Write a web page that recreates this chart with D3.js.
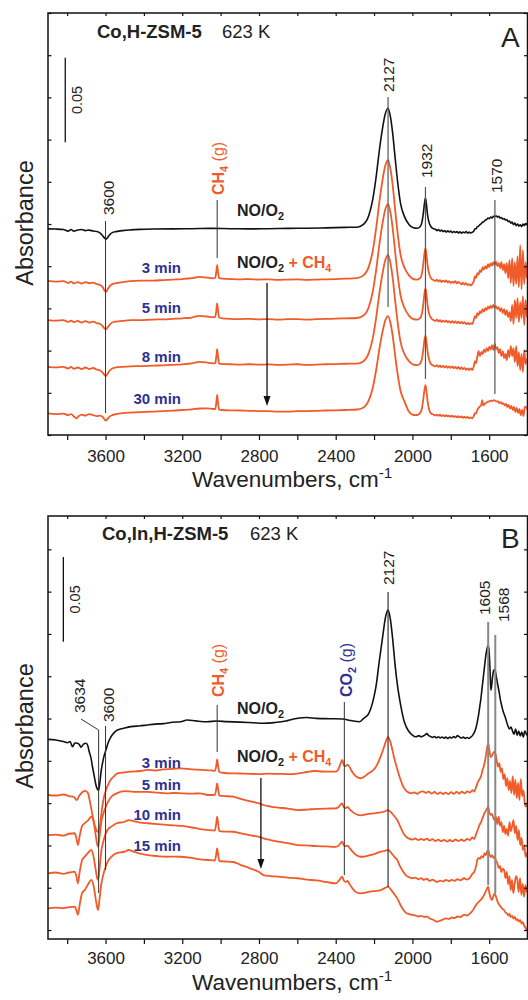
<!DOCTYPE html>
<html><head><meta charset="utf-8">
<script src="https://cdn.jsdelivr.net/npm/d3@7"></script>
<style>body{margin:0;background:#fff}</style>
</head><body>
<svg id="c" width="528" height="1000"></svg>
<script>
// ---------- axis data ----------
const xDomain = [3900, 1400];
const xTicksMajor = [3600, 3200, 2800, 2400, 2000, 1600];
const xTicksAll = [3800, 3600, 3400, 3200, 3000, 2800, 2600, 2400, 2200, 2000, 1800, 1600];
const yTicksA = [0, 0.025, 0.05, 0.075, 0.1, 0.125, 0.15, 0.175, 0.2, 0.225, 0.25];
const yTicksB = [0, 0.025, 0.05, 0.075, 0.1, 0.125, 0.15, 0.175, 0.2, 0.225];
const yDomainA = [0, 0.25];
const yDomainB = [-0.0053, 0.2447];
const scaleBar = 0.05;

// ---------- Panel A spectra [wavenumber, absorbance] ----------
const aNO = [[3900,.1221],[3860,.1220],[3820,.1217],[3795,.1208],[3780,.1217],[3765,.1208],[3745,.1214],[3725,.1217],[3705,.1211],[3685,.1214],[3665,.1208],[3645,.1205],[3628,.1196],[3615,.1181],[3605,.1166],[3598,.1160],[3590,.1169],[3578,.1187],[3565,.1199],[3545,.1205],[3510,.1211],[3470,.1215],[3420,.1218],[3350,.1220],[3250,.1221],[3150,.1222],[3050,.1224],[2950,.1222],[2850,.1221],[2750,.1222],[2650,.1224],[2550,.1225],[2450,.1227],[2350,.1230],[2290,.1231],
[2257,.1246],[2227,.1302],[2207,.1394],[2187,.1549],[2172,.1690],[2157,.1809],[2142,.1900],[2127,.1936],[2115,.1887],[2103,.1788],[2090,.1640],[2077,.1499],[2062,.1372],[2042,.1295],[2017,.1246],
[1995,.1228],[1975,.1225],[1960,.1234],[1950,.1261],[1943,.1314],[1937,.1373],[1932,.1403],[1927,.1368],[1921,.1302],[1913,.1258],[1903,.1234],[1890,.1222],
[1880,.1219],[1872,.1211],[1864,.1217],[1856,.1208],[1848,.1214],[1840,.1205],[1832,.1211],[1824,.1202],[1816,.1209],[1808,.1203],[1800,.1208],[1792,.1199],[1784,.1206],[1776,.1200],[1768,.1205],[1760,.1197],[1752,.1204],[1744,.1196],[1736,.1203],[1728,.1198],[1720,.1205],[1712,.1196],[1704,.1202],[1696,.1197],[1688,.1201],[1680,.1208],[1674,.1222],[1668,.1221],[1662,.1234],[1655,.1237],[1648,.1246],[1641,.1252],[1634,.1261],[1627,.1264],[1620,.1273],[1613,.1276],[1606,.1285],[1599,.1282],[1592,.1291],[1585,.1285],[1578,.1296],[1571,.1293],[1564,.1299],[1557,.1291],[1550,.1296],[1543,.1285],[1536,.1288],[1529,.1279],[1522,.1282],[1515,.1273],[1508,.1276],[1501,.1264],[1494,.1267],[1487,.1255],[1480,.1261],[1473,.1246],[1466,.1255],[1459,.1240],[1452,.1249],[1445,.1237],[1438,.1246],[1431,.1234],[1424,.1249],[1417,.1240],[1410,.1252],[1400,.1245]];

const a3 = [[3900,.0913],[3860,.0909],[3820,.0912],[3795,.0900],[3780,.0909],[3765,.0898],[3745,.0906],[3725,.0897],[3705,.0906],[3685,.0900],[3665,.0903],[3645,.0894],[3628,.0888],[3615,.0876],[3605,.0855],[3598,.0848],[3590,.0861],[3578,.0882],[3565,.0894],[3545,.0900],[3510,.0906],[3470,.0912],[3420,.0915],[3350,.0915],[3300,.0918],[3250,.0921],[3200,.0924],[3150,.0929],[3110,.0937],[3070,.0932],[3040,.0928],[3028,.0932],[3022,.0971],[3018,.1006],[3014,.0971],[3008,.0929],[2990,.0926],[2950,.0924],[2900,.0922],[2850,.0924],[2800,.0921],[2750,.0922],[2700,.0919],[2650,.0921],[2600,.0922],[2550,.0919],[2500,.0921],[2450,.0922],[2400,.0924],[2350,.0926],[2290,.0929],
[2257,.0944],[2227,.0999],[2207,.1090],[2187,.1244],[2172,.1384],[2157,.1502],[2142,.1593],[2127,.1628],[2115,.1579],[2103,.1481],[2090,.1334],[2077,.1195],[2062,.1069],[2042,.0992],[2017,.0944],
[1995,.0924],[1975,.0921],[1960,.0929],[1950,.0959],[1943,.1018],[1937,.1077],[1932,.1105],[1927,.1072],[1921,.1006],[1913,.0956],[1903,.0929],[1890,.0918],
[1880,.0912],[1872,.0921],[1864,.0909],[1856,.0918],[1848,.0906],[1840,.0915],[1832,.0907],[1824,.0916],[1816,.0903],[1808,.0912],[1800,.0900],[1792,.0909],[1784,.0901],[1776,.0911],[1768,.0898],[1760,.0907],[1752,.0900],[1744,.0893],[1736,.0903],[1728,.0891],[1720,.0900],[1712,.0888],[1704,.0894],[1696,.0885],[1688,.0894],[1680,.0912],[1674,.0941],[1668,.0929],[1662,.0959],[1655,.0950],[1648,.0977],[1641,.0965],[1634,.0995],[1627,.0980],[1620,.1000],[1613,.0986],[1606,.1012],[1599,.0995],[1592,.1018],[1585,.1003],[1578,.1024],[1571,.1009],[1564,.1027],[1557,.1000],[1550,.1018],[1543,.0989],[1536,.1024],[1529,.0977],[1522,.1012],[1515,.0959],[1508,.1018],[1501,.0929],[1494,.1036],[1487,.0900],[1480,.1048],[1473,.0882],[1466,.1024],[1459,.0894],[1452,.1060],[1445,.0876],[1438,.1125],[1431,.0864],[1424,.1095],[1417,.0894],[1410,.1024],[1403,.0930],[1400,.0950]];

const a5 = [[3900,.0681],[3860,.0678],[3820,.0680],[3795,.0670],[3780,.0678],[3765,.0669],[3745,.0676],[3725,.0666],[3705,.0675],[3685,.0666],[3665,.0672],[3645,.0663],[3628,.0657],[3615,.0645],[3605,.0630],[3598,.0626],[3590,.0636],[3578,.0654],[3565,.0666],[3545,.0672],[3510,.0676],[3470,.0680],[3420,.0681],[3350,.0684],[3300,.0685],[3250,.0688],[3200,.0691],[3150,.0696],[3110,.0706],[3070,.0702],[3040,.0698],[3028,.0700],[3022,.0743],[3018,.0780],[3014,.0743],[3008,.0696],[2990,.0691],[2950,.0688],[2900,.0687],[2850,.0688],[2800,.0685],[2750,.0687],[2700,.0684],[2650,.0686],[2600,.0687],[2550,.0684],[2500,.0686],[2450,.0688],[2400,.0689],[2350,.0691],[2290,.0693],
[2257,.0706],[2227,.0760],[2207,.0848],[2187,.0996],[2172,.1131],[2157,.1246],[2142,.1334],[2127,.1368],[2115,.1320],[2103,.1226],[2090,.1084],[2077,.0949],[2062,.0828],[2042,.0754],[2017,.0706],
[1995,.0687],[1975,.0684],[1960,.0693],[1950,.0722],[1943,.0778],[1937,.0841],[1932,.0868],[1927,.0835],[1921,.0770],[1913,.0719],[1903,.0693],[1890,.0681],
[1880,.0675],[1872,.0684],[1864,.0673],[1856,.0680],[1848,.0669],[1840,.0678],[1832,.0670],[1824,.0678],[1816,.0667],[1808,.0675],[1800,.0665],[1792,.0674],[1784,.0664],[1776,.0673],[1768,.0663],[1760,.0671],[1752,.0661],[1744,.0670],[1736,.0660],[1728,.0669],[1720,.0657],[1712,.0664],[1704,.0656],[1696,.0663],[1688,.0657],[1680,.0681],[1674,.0704],[1668,.0693],[1662,.0722],[1655,.0710],[1648,.0734],[1641,.0722],[1634,.0746],[1627,.0731],[1620,.0752],[1613,.0740],[1606,.0761],[1599,.0749],[1592,.0767],[1585,.0752],[1578,.0770],[1571,.0755],[1564,.0764],[1557,.0746],[1550,.0758],[1543,.0734],[1536,.0752],[1529,.0722],[1522,.0746],[1515,.0710],[1508,.0740],[1501,.0699],[1494,.0728],[1487,.0675],[1480,.0770],[1473,.0657],[1466,.0799],[1459,.0693],[1452,.0811],[1445,.0669],[1438,.0787],[1431,.0693],[1424,.0823],[1417,.0651],[1410,.0799],[1403,.0700],[1400,.0720]];

const a8 = [[3900,.0404],[3860,.0401],[3820,.0404],[3795,.0394],[3780,.0403],[3765,.0392],[3745,.0400],[3725,.0391],[3705,.0400],[3685,.0391],[3665,.0397],[3645,.0388],[3628,.0382],[3615,.0370],[3605,.0355],[3598,.0349],[3590,.0361],[3578,.0382],[3565,.0394],[3545,.0400],[3510,.0404],[3470,.0407],[3420,.0408],[3350,.0411],[3300,.0413],[3250,.0416],[3200,.0419],[3150,.0424],[3110,.0433],[3070,.0429],[3040,.0424],[3028,.0426],[3022,.0471],[3018,.0509],[3014,.0471],[3008,.0423],[2990,.0420],[2950,.0419],[2900,.0417],[2850,.0419],[2800,.0417],[2750,.0418],[2700,.0416],[2650,.0417],[2600,.0419],[2550,.0416],[2500,.0417],[2450,.0419],[2400,.0420],[2350,.0422],[2290,.0423],
[2257,.0436],[2227,.0488],[2207,.0571],[2187,.0712],[2172,.0841],[2157,.0950],[2142,.1034],[2127,.1066],[2115,.1021],[2103,.0931],[2090,.0796],[2077,.0667],[2062,.0552],[2042,.0481],[2017,.0436],
[1995,.0417],[1975,.0414],[1960,.0423],[1950,.0453],[1943,.0509],[1937,.0565],[1932,.0589],[1927,.0556],[1921,.0494],[1913,.0447],[1903,.0420],[1890,.0411],
[1880,.0406],[1872,.0414],[1864,.0403],[1856,.0411],[1848,.0401],[1840,.0410],[1832,.0400],[1824,.0408],[1816,.0398],[1808,.0407],[1800,.0397],[1792,.0406],[1784,.0395],[1776,.0404],[1768,.0393],[1760,.0403],[1752,.0391],[1744,.0400],[1736,.0389],[1728,.0398],[1720,.0386],[1712,.0395],[1704,.0385],[1696,.0394],[1688,.0385],[1680,.0408],[1674,.0438],[1668,.0426],[1662,.0462],[1655,.0497],[1648,.0468],[1641,.0491],[1634,.0480],[1627,.0506],[1620,.0491],[1613,.0515],[1606,.0497],[1599,.0524],[1592,.0506],[1585,.0533],[1578,.0503],[1571,.0539],[1564,.0509],[1557,.0521],[1550,.0485],[1543,.0509],[1536,.0468],[1529,.0497],[1522,.0456],[1515,.0480],[1508,.0444],[1501,.0503],[1494,.0462],[1487,.0527],[1480,.0468],[1473,.0515],[1466,.0432],[1459,.0527],[1452,.0408],[1445,.0491],[1438,.0385],[1431,.0480],[1424,.0373],[1417,.0503],[1410,.0420],[1403,.0450],[1400,.0440]];

const a30 = [[3900,.0128],[3860,.0124],[3820,.0127],[3795,.0118],[3780,.0124],[3765,.0110],[3752,.0099],[3740,.0112],[3725,.0121],[3705,.0115],[3685,.0124],[3665,.0118],[3645,.0112],[3628,.0115],[3615,.0107],[3605,.0092],[3598,.0085],[3590,.0095],[3578,.0110],[3565,.0118],[3545,.0124],[3510,.0130],[3470,.0133],[3420,.0136],[3350,.0139],[3300,.0142],[3250,.0144],[3200,.0148],[3150,.0152],[3110,.0157],[3070,.0158],[3040,.0154],[3028,.0154],[3022,.0195],[3018,.0237],[3014,.0195],[3008,.0151],[2990,.0148],[2950,.0146],[2900,.0145],[2850,.0143],[2800,.0142],[2750,.0141],[2700,.0139],[2650,.0139],[2600,.0141],[2550,.0142],[2500,.0143],[2450,.0145],[2400,.0146],[2350,.0148],[2290,.0151],
[2257,.0162],[2227,.0207],[2207,.0278],[2187,.0400],[2172,.0511],[2157,.0605],[2142,.0677],[2127,.0704],[2115,.0666],[2103,.0588],[2090,.0472],[2077,.0361],[2062,.0262],[2042,.0201],[2017,.0136],
[2000,.0121],[1985,.0118],[1970,.0121],[1960,.0130],[1950,.0160],[1943,.0216],[1937,.0269],[1932,.0296],[1927,.0263],[1921,.0201],[1913,.0151],[1903,.0127],[1890,.0121],
[1880,.0115],[1872,.0121],[1864,.0114],[1856,.0120],[1848,.0112],[1840,.0118],[1832,.0111],[1824,.0117],[1816,.0110],[1808,.0115],[1800,.0108],[1792,.0114],[1784,.0107],[1776,.0112],[1768,.0105],[1760,.0111],[1752,.0104],[1744,.0110],[1736,.0102],[1728,.0108],[1720,.0101],[1712,.0107],[1704,.0099],[1696,.0104],[1688,.0099],[1680,.0112],[1674,.0130],[1668,.0127],[1662,.0148],[1655,.0160],[1648,.0169],[1641,.0178],[1636,.0207],[1631,.0175],[1624,.0184],[1617,.0189],[1610,.0195],[1603,.0198],[1596,.0201],[1589,.0204],[1582,.0201],[1575,.0207],[1568,.0203],[1561,.0198],[1554,.0201],[1547,.0189],[1540,.0195],[1533,.0184],[1526,.0189],[1519,.0175],[1512,.0184],[1505,.0166],[1498,.0178],[1491,.0157],[1484,.0172],[1477,.0148],[1470,.0166],[1463,.0136],[1456,.0160],[1449,.0130],[1442,.0154],[1435,.0118],[1428,.0148],[1421,.0112],[1414,.0166],[1410,.0168],[1400,.0150]];

// ---------- Panel B spectra ----------
const bNO = [[3900,.1127],[3860,.1123],[3820,.1114],[3798,.1107],[3785,.1114],[3772,.1083],[3760,.1105],[3746,.1104],[3735,.1093],[3728,.1080],[3715,.1099],[3702,.1104],[3692,.1087],[3685,.1054],[3676,.1017],[3668,.0965],[3658,.0904],[3650,.0857],[3642,.0832],[3636,.0827],[3630,.0869],[3622,.0946],[3616,.0985],[3608,.1028],[3598,.1064],[3585,.1111],[3572,.1142],[3555,.1167],[3538,.1182],[3500,.1194],[3468,.1202],[3420,.1207],[3382,.1212],[3340,.1217],[3300,.1220],[3250,.1228],[3209,.1231],[3174,.1241],[3130,.1236],[3070,.1231],[3020,.1235],[2970,.1232],[2900,.1229],[2830,.1225],[2779,.1222],[2720,.1226],[2660,.1235],[2620,.1247],[2590,.1253],[2553,.1256],[2500,.1251],[2430,.1249],[2363,.1247],[2320,.1238],[2276,.1231],
[2257,.1248],[2227,.1281],[2207,.1347],[2190,.1438],[2172,.1596],[2155,.1734],[2141,.1845],[2127,.1891],[2115,.1838],[2103,.1720],[2090,.1563],[2077,.1438],[2062,.1334],[2042,.1229],[2020,.1176],[2000,.1152],[1982,.1142],
[1965,.1149],[1955,.1141],[1945,.1147],[1935,.1152],[1925,.1161],[1915,.1149],[1905,.1144],[1895,.1138],[1885,.1144],[1875,.1136],[1865,.1142],[1855,.1135],[1845,.1141],[1835,.1134],[1826,.1140],[1815,.1132],[1805,.1140],[1795,.1135],[1785,.1144],[1775,.1136],[1765,.1149],[1755,.1142],[1745,.1135],[1735,.1140],[1725,.1132],[1715,.1138],[1705,.1133],[1695,.1141],[1687,.1149],[1680,.1162],[1672,.1182],[1664,.1217],[1656,.1265],[1650,.1312],[1644,.1359],[1638,.1418],[1632,.1478],[1625,.1548],[1617,.1625],[1610,.1667],[1605,.1684],[1600,.1643],[1595,.1525],[1591,.1418],[1586,.1454],[1581,.1507],[1575,.1537],[1570,.1540],[1564,.1507],[1556,.1454],[1548,.1407],[1541,.1359],[1534,.1324],[1526,.1288],[1518,.1265],[1510,.1235],[1502,.1206],[1494,.1188],[1486,.1200],[1478,.1176],[1470,.1158],[1462,.1188],[1454,.1152],[1446,.1176],[1438,.1147],[1430,.1170],[1422,.1141],[1414,.1176],[1406,.1158],[1400,.1150]];

const b3 = [[3900,.0798],[3860,.0795],[3820,.0801],[3790,.0792],[3765,.0786],[3750,.0768],[3738,.0792],[3720,.0816],[3705,.0823],[3692,.0810],[3680,.0751],[3668,.0680],[3655,.0615],[3645,.0585],[3636,.0579],[3628,.0626],[3618,.0721],[3608,.0786],[3598,.0827],[3585,.0863],[3572,.0889],[3555,.0910],[3538,.0926],[3500,.0932],[3468,.0936],[3420,.0940],[3382,.0946],[3340,.0943],[3300,.0949],[3250,.0952],[3209,.0956],[3150,.0950],[3100,.0946],[3050,.0943],[3030,.0941],[3023,.0969],[3018,.1009],[3013,.0969],[3007,.0934],[2980,.0928],[2940,.0926],[2900,.0925],[2850,.0923],[2800,.0922],[2750,.0924],[2700,.0923],[2650,.0922],[2600,.0925],[2550,.0934],[2513,.0940],[2470,.0937],[2430,.0936],[2400,.0936],[2385,.0952],[2372,.0993],[2366,.1005],[2358,.0975],[2348,.0969],[2338,.0978],[2328,.0963],[2310,.0928],[2290,.0904],[2270,.0897],[2250,.0907],[2230,.0925],[2210,.0940],[2195,.0957],[2180,.0987],[2168,.1019],[2157,.1052],[2145,.1093],[2135,.1126],[2127,.1142],[2118,.1123],[2108,.1082],[2095,.1017],[2082,.0963],[2065,.0898],[2048,.0847],[2027,.0817],[2005,.0808],
[1990,.0814],[1975,.0805],[1960,.0816],[1945,.0820],[1930,.0811],[1915,.0818],[1900,.0806],[1885,.0816],[1870,.0805],[1855,.0813],[1840,.0804],[1826,.0812],[1812,.0803],[1798,.0815],[1784,.0805],[1770,.0817],[1756,.0806],[1742,.0818],[1728,.0808],[1714,.0819],[1700,.0812],[1688,.0827],[1678,.0818],[1668,.0845],[1658,.0875],[1650,.0892],[1642,.0910],[1634,.0946],[1626,.0975],[1618,.1022],[1611,.1076],[1605,.1103],[1599,.1064],[1592,.1022],[1586,.1028],[1579,.1046],[1573,.1054],[1568,.1046],[1561,.1005],[1554,.0965],[1547,.0987],[1540,.0934],[1533,.0957],[1526,.0892],[1519,.0922],[1512,.0851],[1505,.0898],[1498,.0827],[1491,.0881],[1484,.0810],[1477,.0910],[1470,.0798],[1463,.0887],[1456,.0780],[1449,.0869],[1442,.0768],[1435,.0892],[1428,.0792],[1421,.0827],[1414,.0745],[1407,.0729],[1400,.0751]];

const b5 = [[3900,.0561],[3860,.0564],[3820,.0558],[3790,.0569],[3761,.0572],[3752,.0544],[3744,.0502],[3735,.0556],[3722,.0615],[3709,.0631],[3690,.0650],[3674,.0670],[3662,.0638],[3652,.0567],[3644,.0508],[3639,.0492],[3632,.0544],[3622,.0638],[3612,.0686],[3605,.0709],[3590,.0751],[3570,.0788],[3542,.0808],[3500,.0821],[3455,.0817],[3420,.0816],[3379,.0817],[3330,.0812],[3281,.0808],[3240,.0810],[3205,.0808],[3150,.0806],[3107,.0808],[3066,.0798],[3030,.0799],[3023,.0833],[3018,.0867],[3013,.0833],[3007,.0795],[2980,.0792],[2934,.0788],[2900,.0777],[2850,.0762],[2800,.0748],[2777,.0739],[2740,.0730],[2700,.0724],[2650,.0718],[2600,.0709],[2550,.0712],[2500,.0716],[2450,.0718],[2400,.0719],[2385,.0727],[2372,.0745],[2366,.0749],[2358,.0727],[2348,.0721],[2338,.0727],[2328,.0715],[2310,.0697],[2290,.0683],[2270,.0678],[2253,.0680],[2230,.0686],[2200,.0689],[2175,.0694],[2148,.0699],[2127,.0709],[2110,.0694],[2095,.0674],[2079,.0650],[2065,.0615],[2050,.0579],[2035,.0553],[2020,.0542],[2000,.0535],
[1985,.0541],[1970,.0531],[1955,.0538],[1940,.0532],[1925,.0540],[1910,.0529],[1895,.0537],[1880,.0526],[1865,.0534],[1850,.0525],[1835,.0533],[1818,.0522],[1805,.0532],[1790,.0524],[1775,.0535],[1760,.0525],[1745,.0535],[1730,.0527],[1715,.0538],[1700,.0532],[1688,.0547],[1678,.0538],[1668,.0567],[1658,.0597],[1650,.0621],[1642,.0638],[1634,.0662],[1626,.0686],[1618,.0703],[1611,.0718],[1605,.0729],[1599,.0697],[1592,.0680],[1585,.0686],[1578,.0662],[1571,.0650],[1564,.0668],[1557,.0626],[1550,.0670],[1543,.0615],[1536,.0638],[1529,.0579],[1522,.0615],[1515,.0567],[1508,.0597],[1501,.0556],[1494,.0638],[1487,.0585],[1480,.0615],[1473,.0650],[1466,.0573],[1459,.0615],[1452,.0532],[1445,.0591],[1438,.0502],[1431,.0544],[1424,.0473],[1417,.0502],[1410,.0433],[1403,.0455],[1400,.0440]];

const b10 = [[3900,.0335],[3860,.0340],[3820,.0332],[3790,.0340],[3761,.0345],[3752,.0319],[3744,.0276],[3735,.0343],[3722,.0414],[3709,.0433],[3690,.0458],[3674,.0473],[3662,.0431],[3652,.0361],[3644,.0307],[3639,.0296],[3632,.0355],[3622,.0467],[3612,.0520],[3605,.0551],[3590,.0591],[3570,.0611],[3542,.0631],[3500,.0640],[3480,.0650],[3455,.0644],[3420,.0635],[3379,.0631],[3330,.0626],[3281,.0621],[3240,.0618],[3205,.0615],[3150,.0606],[3107,.0597],[3066,.0591],[3030,.0588],[3023,.0629],[3018,.0670],[3013,.0629],[3007,.0585],[2980,.0582],[2934,.0581],[2900,.0573],[2850,.0561],[2800,.0550],[2777,.0542],[2740,.0532],[2700,.0523],[2650,.0514],[2600,.0502],[2550,.0500],[2500,.0496],[2450,.0494],[2400,.0492],[2385,.0499],[2372,.0517],[2366,.0522],[2358,.0502],[2348,.0496],[2338,.0499],[2328,.0485],[2310,.0461],[2290,.0440],[2270,.0433],[2250,.0434],[2230,.0440],[2200,.0449],[2165,.0463],[2140,.0470],[2127,.0473],[2110,.0455],[2095,.0434],[2079,.0414],[2065,.0378],[2050,.0349],[2035,.0325],[2020,.0313],[2000,.0306],
[1985,.0310],[1970,.0300],[1955,.0307],[1940,.0296],[1925,.0303],[1910,.0291],[1895,.0298],[1880,.0288],[1870,.0285],[1855,.0292],[1840,.0287],[1825,.0296],[1810,.0289],[1795,.0297],[1780,.0291],[1765,.0300],[1750,.0294],[1731,.0306],[1715,.0298],[1700,.0310],[1688,.0331],[1678,.0343],[1668,.0378],[1662,.0414],[1655,.0426],[1648,.0420],[1640,.0437],[1632,.0428],[1624,.0455],[1617,.0443],[1611,.0464],[1605,.0473],[1599,.0449],[1592,.0431],[1585,.0443],[1578,.0426],[1571,.0433],[1564,.0408],[1557,.0396],[1550,.0366],[1543,.0378],[1536,.0343],[1529,.0361],[1522,.0355],[1515,.0307],[1508,.0343],[1501,.0272],[1494,.0319],[1488,.0236],[1481,.0296],[1474,.0219],[1467,.0272],[1460,.0319],[1453,.0296],[1446,.0225],[1439,.0307],[1432,.0207],[1425,.0272],[1418,.0197],[1411,.0266],[1404,.0225],[1400,.0240]];

const b15 = [[3900,.0128],[3860,.0133],[3820,.0130],[3790,.0135],[3761,.0138],[3752,.0118],[3744,.0089],[3735,.0148],[3722,.0219],[3709,.0236],[3690,.0272],[3674,.0296],[3662,.0260],[3652,.0189],[3644,.0136],[3639,.0118],[3632,.0177],[3622,.0272],[3612,.0325],[3605,.0355],[3590,.0402],[3570,.0433],[3542,.0455],[3500,.0463],[3480,.0473],[3455,.0464],[3420,.0452],[3379,.0443],[3330,.0437],[3281,.0433],[3240,.0434],[3205,.0433],[3150,.0426],[3107,.0417],[3066,.0414],[3030,.0411],[3023,.0446],[3018,.0483],[3013,.0446],[3007,.0408],[2980,.0405],[2934,.0402],[2900,.0387],[2850,.0366],[2800,.0343],[2777,.0325],[2740,.0319],[2700,.0316],[2650,.0310],[2600,.0306],[2550,.0298],[2500,.0293],[2450,.0284],[2400,.0276],[2385,.0290],[2372,.0310],[2366,.0315],[2358,.0293],[2348,.0285],[2338,.0290],[2328,.0272],[2310,.0242],[2290,.0222],[2270,.0217],[2250,.0219],[2230,.0225],[2200,.0230],[2165,.0236],[2140,.0251],[2127,.0256],[2110,.0236],[2095,.0213],[2079,.0187],[2065,.0154],[2050,.0124],[2035,.0103],[2020,.0095],[2000,.0089],
[1985,.0086],[1970,.0080],[1955,.0084],[1940,.0078],[1923,.0079],[1910,.0068],[1895,.0062],[1880,.0053],[1870,.0049],[1855,.0056],[1840,.0062],[1825,.0069],[1810,.0066],[1795,.0074],[1780,.0071],[1765,.0080],[1750,.0077],[1731,.0089],[1715,.0086],[1700,.0098],[1688,.0112],[1678,.0130],[1668,.0148],[1662,.0158],[1655,.0165],[1648,.0174],[1640,.0183],[1632,.0195],[1624,.0213],[1617,.0230],[1611,.0245],[1605,.0256],[1599,.0219],[1592,.0189],[1585,.0177],[1578,.0201],[1571,.0217],[1564,.0195],[1557,.0171],[1550,.0154],[1543,.0142],[1536,.0133],[1529,.0124],[1522,.0118],[1515,.0103],[1508,.0100],[1501,.0086],[1494,.0095],[1487,.0077],[1480,.0083],[1473,.0068],[1466,.0077],[1459,.0059],[1452,.0065],[1445,.0050],[1438,.0059],[1431,.0038],[1424,.0047],[1417,.0024],[1410,.0012],[1403,.0000],[1400,.0005]];

const timesA = ["3 min", "5 min", "8 min", "30 min"];
const timesB = ["3 min", "5 min", "10 min", "15 min"];

// ---------- drawing ----------
const FONT = "'Liberation Sans', Arial, Helvetica, sans-serif";
const RED = "#f15a29", BLUE = "#2e3192", BLACK = "#111";
const svg = d3.select("#c");
const defs = svg.append("defs");
const L = 48, R = 527.5;
const x = d3.scaleLinear().domain(xDomain).range([L, R]);

function rich(g, parts, fs, attrs) {
  const t = g.append("text").attr("font-family", FONT).attr("font-size", fs);
  Object.entries(attrs || {}).forEach(([k, v]) => t.attr(k, v));
  let shifted = 0;
  parts.forEach(p => {
    const s = t.append("tspan").text(p.t);
    if (p.fill) s.attr("fill", p.fill);
    if (p.bold) s.attr("font-weight", "bold");
    if (p.sub) { s.attr("font-size", fs * 0.68).attr("dy", fs * 0.28); shifted = fs * 0.28; }
    else if (p.sup) { s.attr("font-size", fs * 0.68).attr("dy", -fs * 0.42); shifted = -fs * 0.42; }
    else if (shifted) { s.attr("dy", -shifted); shifted = 0; }
  });
  return t;
}

function panel(o) {
  const y = d3.scaleLinear().domain(o.yDomain).range([o.bottom, o.top]);
  const g = svg.append("g");
  defs.append("clipPath").attr("id", "clip" + o.name).append("rect")
    .attr("x", L).attr("y", o.top).attr("width", R - L).attr("height", o.bottom - o.top);

  const line = d3.line().x(d => x(d[0])).y(d => y(d[1])).curve(d3.curveMonotoneX);
  const sg = g.append("g").attr("clip-path", `url(#clip${o.name})`);
  o.series.forEach((s, i) => {
    sg.append("path").attr("d", line(s)).attr("fill", "none")
      .attr("stroke", i === 0 ? BLACK : RED).attr("stroke-width", i === 0 ? 1.6 : 1.8)
      .attr("stroke-linejoin", "round");
  });

  // annotation lines
  o.marks.forEach(m => {
    const xm = x(m.wn);
    g.append("line").attr("x1", xm).attr("x2", xm).attr("y1", m.y1).attr("y2", m.y2)
      .attr("stroke", m.color || "#333").attr("stroke-width", m.w || 1);
    if (m.leader) {
      g.append("line").attr("x1", m.leader[0]).attr("y1", m.leader[1]).attr("x2", xm).attr("y2", m.y1)
        .attr("stroke", "#333").attr("stroke-width", 1);
    }
    const lx = m.lx !== undefined ? m.lx : xm + (m.dx || 1);
    rich(g, m.parts || [{ t: m.label }], m.fs || 15.5,
      { transform: `translate(${lx},${m.ly}) rotate(-90)`, dy: "0.35em", fill: "#222" });
  });

  // axes
  const ax = g.append("g").attr("transform", `translate(0,${o.bottom})`)
    .call(d3.axisBottom(x).tickValues(xTicksAll).tickSize(5).tickPadding(o.tickPad)
      .tickFormat(d => xTicksMajor.includes(d) ? d : ""));
  const at = g.append("g").attr("transform", `translate(0,${o.top})`)
    .call(d3.axisTop(x).tickValues(xTicksAll).tickSize(-3).tickFormat(""));
  const al = g.append("g").attr("transform", `translate(${L},0)`)
    .call(d3.axisLeft(y).tickValues(o.yTicks).tickSize(-3.5).tickFormat(""));
  const ar = g.append("g").attr("transform", `translate(${R},0)`)
    .call(d3.axisRight(y).tickValues(o.yTicks).tickSize(-3.5).tickFormat(""));
  [ax, at, al, ar].forEach(a => {
    a.select(".domain").remove();
    a.selectAll(".tick line").attr("stroke", "#111").attr("stroke-width", 1.2);
  });
  ax.selectAll(".tick text").attr("font-family", FONT).attr("font-size", 17).attr("fill", "#222");

  g.append("rect").attr("x", L).attr("y", o.top).attr("width", R - L).attr("height", o.bottom - o.top)
    .attr("fill", "none").attr("stroke", "#111").attr("stroke-width", 1.5);

  // scale bar
  const sbx = x(o.sbWn);
  g.append("line").attr("x1", sbx).attr("x2", sbx).attr("y1", y(o.sbTop)).attr("y2", y(o.sbTop - scaleBar))
    .attr("stroke", "#111").attr("stroke-width", 1.3);
  g.append("text").attr("transform", `translate(${sbx + 12},${(y(o.sbTop) + y(o.sbTop - scaleBar)) / 2}) rotate(-90)`)
    .attr("text-anchor", "middle").attr("dy", "0.35em").attr("font-family", FONT).attr("font-size", 14.5)
    .attr("fill", "#222").text(String(scaleBar));

  // titles
  g.append("text").attr("x", o.titleX).attr("y", o.titleY).attr("font-family", FONT).attr("font-size", 18.5)
    .attr("font-weight", "bold").attr("fill", "#222").text(o.title);
  g.append("text").attr("x", o.tempX).attr("y", o.titleY).attr("font-family", FONT).attr("font-size", 18.5)
    .attr("fill", "#222").text("623 K");
  g.append("text").attr("x", 501).attr("y", o.letterY).attr("font-family", FONT).attr("font-size", 28)
    .attr("fill", "#222").text(o.name);

  // y label
  g.append("text").attr("transform", `translate(33,${o.ylabY}) rotate(-90)`).attr("text-anchor", "middle")
    .attr("font-family", FONT).attr("font-size", 23.5).attr("fill", "#222").text("Absorbance");
  // x label
  rich(g, [{ t: "Wavenumbers, cm" }, { t: "-1", sup: true }], 22.5, { x: 192, y: o.xlabY, fill: "#222" });

  // NO/O2 labels
  rich(g, [{ t: "NO/O", bold: true }, { t: "2", sub: true, bold: true }], 16, { x: 237, y: o.noY, fill: "#222" });
  rich(g, [{ t: "NO/O", bold: true }, { t: "2", sub: true, bold: true }, { t: " + CH", bold: true, fill: RED },
    { t: "4", sub: true, bold: true, fill: RED }], 16, { x: 237, y: o.mixY, fill: "#222" });

  // time labels
  o.times.forEach((t, i) => {
    g.append("text").attr("x", 181).attr("y", o.timeY[i]).attr("text-anchor", "end")
      .attr("font-family", FONT).attr("font-size", 15).attr("font-weight", "bold").attr("fill", BLUE).text(t);
  });

  // arrow
  const axx = x(o.arrowWn);
  g.append("line").attr("x1", axx).attr("x2", axx).attr("y1", o.arrow[0]).attr("y2", o.arrow[1] - 8)
    .attr("stroke", "#111").attr("stroke-width", 1.3);
  g.append("path").attr("d", `M${axx - 3.5},${o.arrow[1] - 10} L${axx + 3.5},${o.arrow[1] - 10} L${axx},${o.arrow[1]} Z`)
    .attr("fill", "#111");
}

const ch4 = [{ t: "CH", bold: true, fill: RED }, { t: "4", sub: true, bold: true, fill: RED }, { t: " (g)", fill: RED }];
const co2 = [{ t: "CO", bold: true, fill: BLUE }, { t: "2", sub: true, bold: true, fill: BLUE }, { t: " (g)", fill: BLUE }];

panel({
  name: "A", top: 13, bottom: 435, yDomain: yDomainA, yTicks: yTicksA, tickPad: 10,
  series: [aNO, a3, a5, a8, a30],
  marks: [
    { wn: 3600, y1: 221, y2: 413, label: "3600", ly: 215, dx: 3 },
    { wn: 3018, y1: 200, y2: 258, parts: ch4, ly: 195, fs: 16, dx: 0 },
    { wn: 2127, y1: 97, y2: 307, label: "2127", ly: 92, color: "#555", w: 1.2 },
    { wn: 1932, y1: 187, y2: 379, label: "1932", ly: 178, color: "#555", w: 1.2 },
    { wn: 1570, y1: 200, y2: 394, label: "1570", ly: 193, color: "#555", w: 1.2, dx: 2 }
  ],
  sbWn: 3810, sbTop: 0.2235,
  title: "Co,H-ZSM-5", titleX: 97, titleY: 38, tempX: 222, letterY: 47,
  ylabY: 223, xlabY: 487, noY: 216, mixY: 268,
  times: timesA, timeY: [273, 313, 362, 404],
  arrowWn: 2758, arrow: [283, 406]
});

panel({
  name: "B", top: 516, bottom: 939, yDomain: yDomainB, yTicks: yTicksB, tickPad: 8,
  series: [bNO, b3, b5, b10, b15],
  marks: [
    { wn: 3636, y1: 730, y2: 893, label: "3634", ly: 713, lx: 80, leader: [81, 719] },
    { wn: 3600, y1: 726, y2: 870, label: "3600", ly: 722, dx: 3.5 },
    { wn: 3018, y1: 705, y2: 752, parts: ch4, ly: 697, fs: 16, dx: 1 },
    { wn: 2355, y1: 702, y2: 875, parts: co2, ly: 697, fs: 16, dx: 2 },
    { wn: 2127, y1: 592, y2: 887, label: "2127", ly: 585, w: 1.2 },
    { wn: 1605, y1: 622, y2: 885, label: "1605", ly: 615, lx: 484.5, color: "#888", w: 2 },
    { wn: 1568, y1: 635, y2: 893, label: "1568", ly: 622, lx: 504, color: "#888", w: 2 }
  ],
  sbWn: 3820, sbTop: 0.2204,
  title: "Co,In,H-ZSM-5", titleX: 102, titleY: 540, tempX: 250, letterY: 548,
  ylabY: 726, xlabY: 990, noY: 714, mixY: 762,
  times: timesB, timeY: [768, 790, 820, 851],
  arrowWn: 2790, arrow: [778, 869]
});
</script>
</body></html>
